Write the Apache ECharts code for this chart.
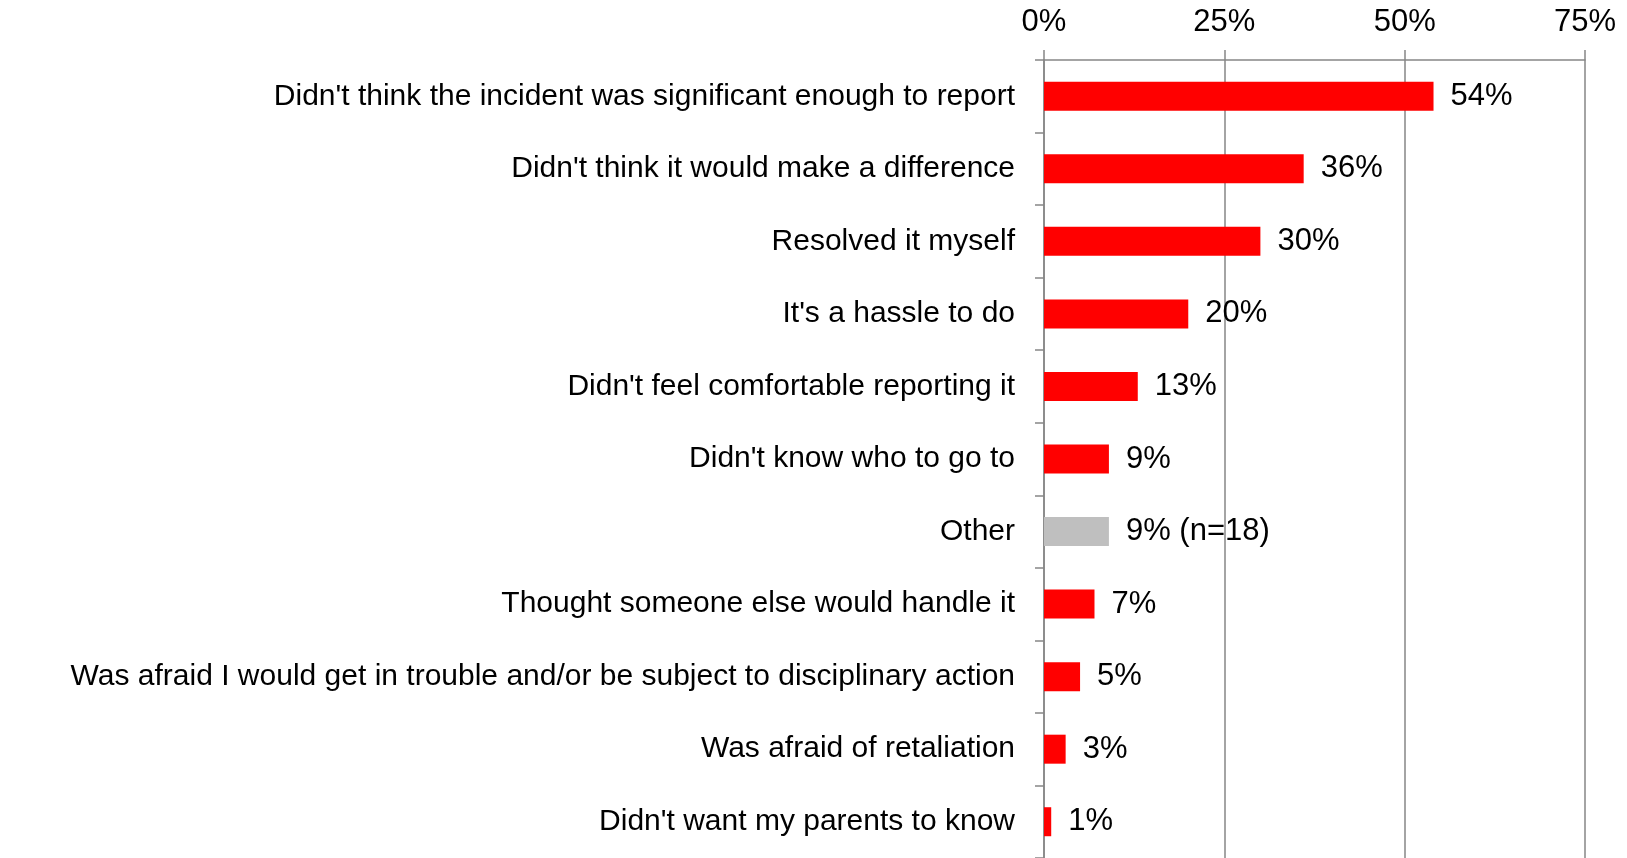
<!DOCTYPE html>
<html>
<head>
<meta charset="utf-8">
<script src="https://cdn.jsdelivr.net/npm/echarts@6/dist/echarts.min.js"></script>
<style>
  html, body { margin: 0; padding: 0; background: #fff; }
  #chart { width: 1627px; height: 858px; }
</style>
</head>
<body>
<div id="chart"></div>
<script>
var categories = [
    "Didn't think the incident was significant enough to report",
    "Didn't think it would make a difference",
    "Resolved it myself",
    "It's a hassle to do",
    "Didn't feel comfortable reporting it",
    "Didn't know who to go to",
    "Other",
    "Thought someone else would handle it",
    "Was afraid I would get in trouble and/or be subject to disciplinary action",
    "Was afraid of retaliation",
    "Didn't want my parents to know"
];
var values = [54, 36, 30, 20, 13, 9, 9, 7, 5, 3, 1];
var valueLabels = ['54%', '36%', '30%', '20%', '13%', '9%', '9% (n=18)', '7%', '5%', '3%', '1%'];
var barColors = ['#ff0000', '#ff0000', '#ff0000', '#ff0000', '#ff0000', '#ff0000',
    '#bfbfbf', '#ff0000', '#ff0000', '#ff0000', '#ff0000'];

var myChart = echarts.init(document.getElementById('chart'));
var font = 'Liberation Sans, Arial, sans-serif';
var option = {
    animation: false,
    grid: {
        left: 1044,
        right: 42,
        top: 60,
        bottom: 0
    },
    xAxis: {
        type: 'value',
        position: 'top',
        min: 0,
        max: 75,
        interval: 25,
        axisLine: { show: true, lineStyle: { color: '#868686', width: 1.5 } },
        axisTick: { show: true, length: 10, lineStyle: { color: '#868686', width: 1.5 } },
        splitLine: { show: true, lineStyle: { color: '#868686', width: 1.5 } },
        axisLabel: {
            formatter: '{value}%',
            color: '#000',
            fontSize: 31,
            fontFamily: font,
            margin: 22
        }
    },
    yAxis: {
        type: 'category',
        inverse: true,
        data: categories,
        axisLine: { show: true, lineStyle: { color: '#868686', width: 1.5 } },
        axisTick: { show: true, length: 9, lineStyle: { color: '#868686', width: 1.5 } },
        axisLabel: {
            color: '#000',
            fontSize: 30,
            fontFamily: font,
            margin: 29
        }
    },
    series: [
        {
            type: 'bar',
            barWidth: 29,
            data: values.map(function (v, i) {
                return {
                    value: v,
                    itemStyle: { color: barColors[i] },
                    label: { formatter: valueLabels[i] }
                };
            }),
            label: {
                show: true,
                position: 'right',
                distance: 17,
                color: '#000',
                fontSize: 31,
                fontFamily: font
            }
        }
    ]
};
myChart.setOption(option);
window.addEventListener('resize', () => {
    myChart.resize();
})
</script>
</body>
</html>
